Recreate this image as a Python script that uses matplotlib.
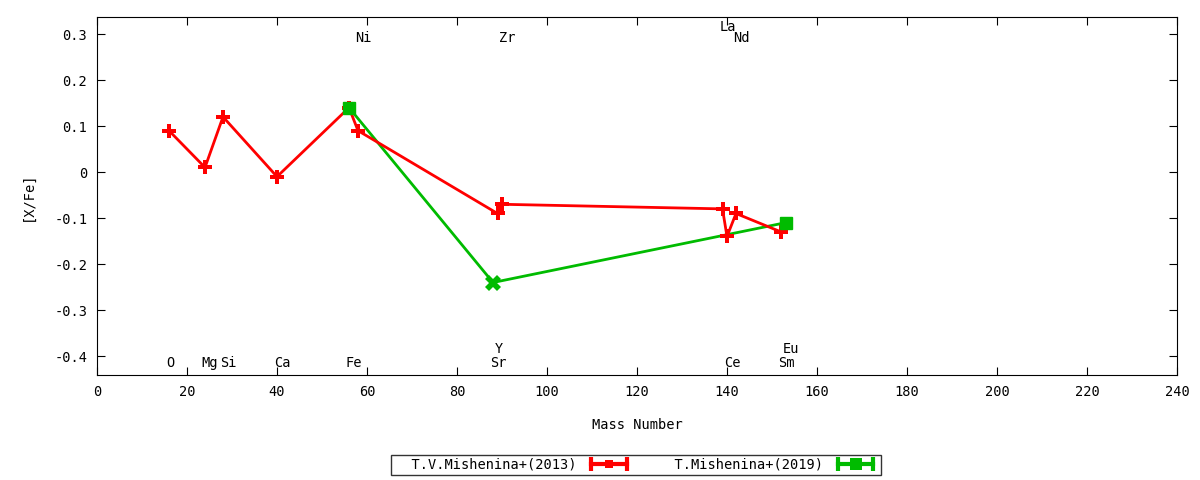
import matplotlib
matplotlib.use("Agg")
import matplotlib.pyplot as plt
from matplotlib.lines import Line2D
from matplotlib.legend_handler import HandlerLine2D, HandlerTuple

plt.rcParams['font.family'] = ['DejaVu Sans Mono', 'DejaVu Sans']
FS = 9.8

# T.V.Mishenina+(2013)
mass_2013 = [16, 24, 28, 40, 56, 58, 89, 90, 139, 140, 142, 152]
xfe_2013 = [0.09, 0.01, 0.12, -0.01, 0.14, 0.09, -0.09, -0.07, -0.08, -0.14, -0.09, -0.13]

# T.Mishenina+(2019)
mass_2019 = [56, 88, 153]
xfe_2019 = [0.14, -0.24, -0.11]

# element labels: (name, mass, y)
elem_names = ['O', 'Mg', 'Si', 'Ca', 'Fe', 'Ni', 'Sr', 'Y', 'Zr', 'La', 'Ce', 'Nd', 'Sm', 'Eu']
elem_mass = [16, 24, 28, 40, 56, 58, 88, 89, 90, 139, 140, 142, 152, 153]
elem_y = [-0.415, -0.415, -0.415, -0.415, -0.415, 0.291, -0.415, -0.385, 0.291, 0.315,
          -0.415, 0.291, -0.415, -0.385]

RED = '#ff0000'
GREEN = '#00bb00'

fig = plt.figure(figsize=(12, 4.8), dpi=100)
ax = fig.add_axes([97/1200, 1 - 375/480, 1080/1200, 358/480])

red_line, = ax.plot(mass_2013, xfe_2013, color=RED, lw=2, marker='P',
                    markersize=10, markeredgewidth=0, zorder=3)
green_line, = ax.plot(mass_2019, xfe_2019, color=GREEN, lw=2, zorder=2)
ax.plot([mass_2019[0], mass_2019[2]], [xfe_2019[0], xfe_2019[2]], ls='none',
        marker='s', color=GREEN, markersize=8, zorder=4)
ax.plot([mass_2019[1]], [xfe_2019[1]], ls='none', marker='X',
        color=GREEN, markersize=11, markeredgewidth=0, zorder=4)

for name, m, y in zip(elem_names, elem_mass, elem_y):
    ax.text(m - 0.7, y, name, ha='left', va='center', fontsize=FS)

ax.set_xlim(0, 240)
ax.set_ylim(-0.441, 0.337)
ax.set_xticks(range(0, 241, 20))
yt = [-0.4, -0.3, -0.2, -0.1, 0, 0.1, 0.2, 0.3]
ax.set_yticks(yt)
ax.set_yticklabels(['0' if v == 0 else f'{v:.1f}' for v in yt])
ax.tick_params(direction='in', top=True, right=True, length=6, labelsize=FS, pad=7)
ax.set_xlabel('Mass Number', fontsize=FS, labelpad=14)
ax.set_ylabel('[X/Fe]', fontsize=FS, labelpad=14)

# legend samples: line with end caps and a marker in the middle
def sample(color, marker, ms):
    caps = Line2D([], [], color=color, lw=3, marker='|', markersize=10,
                  markeredgewidth=3)
    mid = Line2D([], [], color=color, lw=0, marker=marker, markersize=ms,
                 markeredgewidth=0)
    return caps, mid

r_caps, r_mid = sample(RED, 's', 6)
g_caps, g_mid = sample(GREEN, 's', 8)
hmap = {r_caps: HandlerLine2D(numpoints=2), g_caps: HandlerLine2D(numpoints=2),
        r_mid: HandlerLine2D(numpoints=1), g_mid: HandlerLine2D(numpoints=1),
        tuple: HandlerTuple(ndivide=1)}
leg = fig.legend([(r_caps, r_mid), (g_caps, g_mid)],
                 ['  T.V.Mishenina+(2013)', '  T.Mishenina+(2019)'],
                 handler_map=hmap, loc='center', bbox_to_anchor=(636/1200, 1 - 465/480),
                 ncol=2, markerfirst=False, fontsize=FS, frameon=True, fancybox=False,
                 edgecolor='black', handlelength=3.2, columnspacing=2.0,
                 borderpad=0.25, handletextpad=0.8, borderaxespad=0)
leg.get_frame().set_linewidth(1)

plt.savefig('out.png', dpi=100)
